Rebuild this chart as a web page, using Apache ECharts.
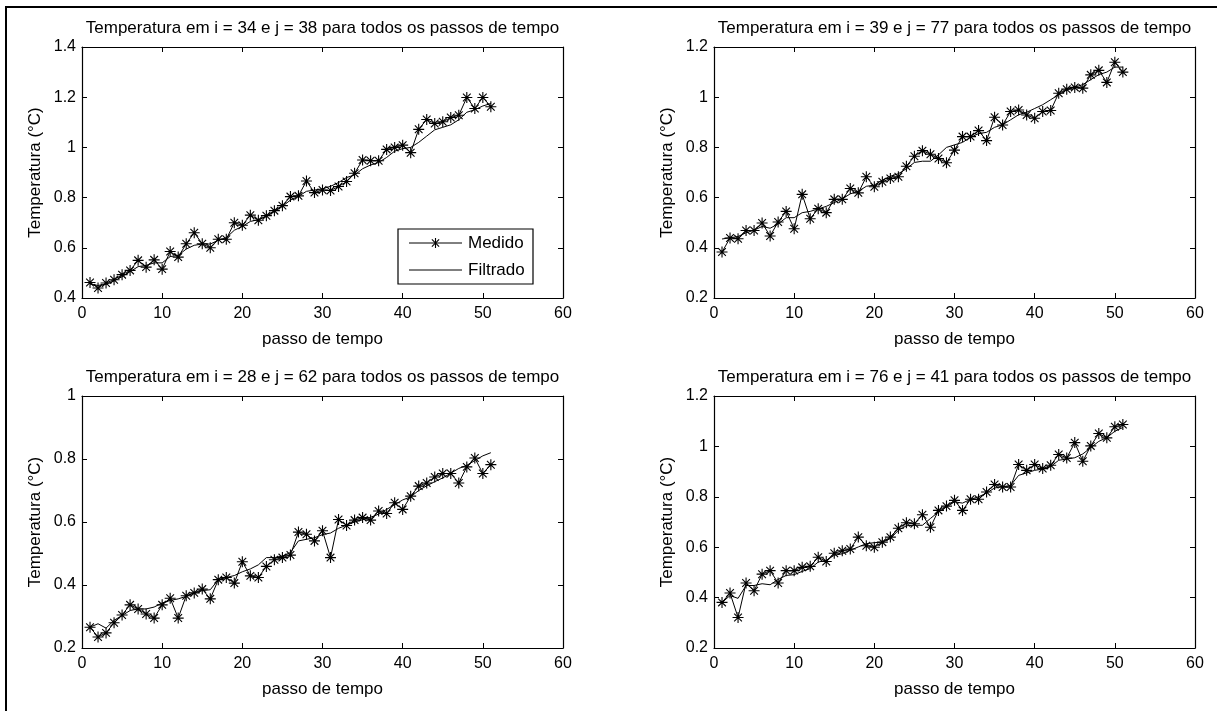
<!DOCTYPE html>
<html>
<head>
<meta charset="utf-8">
<script src="https://cdn.jsdelivr.net/npm/echarts@6/dist/echarts.min.js"></script>
<style>
html,body{margin:0;padding:0;background:#fff;}
#c{width:1217px;height:711px;}
</style>
</head>
<body>
<div id="c"></div>
<script>
const steps = [1,2,3,4,5,6,7,8,9,10,11,12,13,14,15,16,17,18,19,20,21,22,23,24,25,26,27,28,29,30,31,32,33,34,35,36,37,38,39,40,41,42,43,44,45,46,47,48,49,50,51];

const titles = [
  'Temperatura em i = 34 e j = 38 para todos os passos de tempo',
  'Temperatura em i = 39 e j = 77 para todos os passos de tempo',
  'Temperatura em i = 28 e j = 62 para todos os passos de tempo',
  'Temperatura em i = 76 e j = 41 para todos os passos de tempo'
];
const xAxisName = 'passo de tempo';
const yAxisName = 'Temperatura (°C)';
const legendNames = ['Medido', 'Filtrado'];

const medidoA = [0.462,0.44,0.46,0.473,0.493,0.51,0.55,0.523,0.552,0.515,0.585,0.563,0.616,0.66,0.616,0.6,0.634,0.634,0.70,0.69,0.73,0.71,0.728,0.748,0.768,0.804,0.807,0.866,0.82,0.83,0.828,0.844,0.864,0.897,0.95,0.947,0.947,0.992,1.0,1.009,0.979,1.072,1.111,1.095,1.102,1.119,1.128,1.199,1.155,1.199,1.162];
const filtradoA = [0.455,0.45,0.455,0.468,0.485,0.505,0.525,0.53,0.54,0.54,0.565,0.57,0.595,0.61,0.615,0.615,0.63,0.64,0.67,0.685,0.705,0.712,0.725,0.745,0.765,0.79,0.805,0.825,0.83,0.835,0.845,0.86,0.88,0.89,0.915,0.93,0.94,0.96,0.985,0.995,1.0,1.02,1.045,1.07,1.08,1.09,1.11,1.14,1.15,1.165,1.175];

const medidoB = [0.383,0.439,0.436,0.469,0.469,0.499,0.447,0.503,0.545,0.476,0.613,0.516,0.556,0.54,0.593,0.593,0.636,0.619,0.683,0.643,0.663,0.676,0.683,0.725,0.765,0.787,0.773,0.756,0.739,0.789,0.843,0.843,0.867,0.827,0.92,0.889,0.943,0.949,0.929,0.916,0.943,0.947,1.016,1.032,1.039,1.036,1.089,1.107,1.059,1.139,1.1];
const filtradoB = [0.435,0.44,0.445,0.46,0.47,0.485,0.478,0.495,0.52,0.52,0.54,0.545,0.555,0.565,0.58,0.595,0.615,0.625,0.645,0.65,0.67,0.685,0.695,0.715,0.74,0.745,0.745,0.77,0.8,0.81,0.82,0.84,0.855,0.86,0.88,0.89,0.91,0.93,0.94,0.955,0.97,0.99,1.01,1.03,1.04,1.05,1.07,1.09,1.1,1.12,1.12];

const medidoC = [0.266,0.235,0.248,0.28,0.305,0.337,0.324,0.308,0.295,0.337,0.358,0.295,0.366,0.375,0.387,0.356,0.417,0.424,0.406,0.474,0.429,0.424,0.459,0.48,0.487,0.495,0.568,0.561,0.54,0.572,0.487,0.608,0.589,0.606,0.614,0.606,0.635,0.627,0.661,0.64,0.682,0.714,0.724,0.743,0.754,0.754,0.724,0.775,0.803,0.754,0.782];
const filtradoC = [0.266,0.277,0.263,0.288,0.303,0.319,0.324,0.324,0.33,0.343,0.351,0.356,0.364,0.375,0.382,0.385,0.417,0.424,0.43,0.442,0.451,0.464,0.487,0.487,0.492,0.503,0.54,0.545,0.55,0.56,0.565,0.58,0.59,0.6,0.607,0.615,0.625,0.64,0.655,0.67,0.68,0.70,0.715,0.728,0.74,0.755,0.77,0.78,0.795,0.81,0.82];

const medidoD = [0.381,0.418,0.321,0.458,0.427,0.493,0.507,0.458,0.507,0.507,0.52,0.524,0.56,0.543,0.576,0.586,0.593,0.64,0.606,0.6,0.62,0.64,0.675,0.697,0.693,0.729,0.679,0.746,0.763,0.786,0.746,0.79,0.79,0.819,0.849,0.839,0.839,0.928,0.905,0.928,0.912,0.925,0.968,0.954,1.015,0.941,1.002,1.051,1.034,1.078,1.087];
const filtradoD = [0.381,0.408,0.397,0.448,0.448,0.455,0.451,0.472,0.488,0.491,0.504,0.515,0.541,0.548,0.568,0.574,0.588,0.601,0.614,0.618,0.62,0.634,0.667,0.685,0.687,0.687,0.714,0.74,0.76,0.78,0.775,0.79,0.80,0.815,0.835,0.84,0.845,0.885,0.895,0.905,0.91,0.92,0.945,0.95,0.955,0.97,0.995,1.02,1.035,1.06,1.075];

const xTicks = {min: 0, max: 60, interval: 10};
const yRanges = [
  {min: 0.4, max: 1.4, interval: 0.2},
  {min: 0.2, max: 1.2, interval: 0.2},
  {min: 0.2, max: 1.0, interval: 0.2},
  {min: 0.2, max: 1.2, interval: 0.2}
];
const medidoAll = [medidoA, medidoB, medidoC, medidoD];
const filtradoAll = [filtradoA, filtradoB, filtradoC, filtradoD];

// ---- layout ----
const FONT = 'Liberation Sans, Arial, sans-serif';
const TXT = 17, TICK = 16;
const grids = [
  {left: 82, top: 47, width: 481, height: 251},
  {left: 714, top: 47, width: 481, height: 251},
  {left: 82, top: 396, width: 481, height: 252},
  {left: 714, top: 396, width: 481, height: 252}
];
const starPath = 'path://M0,-10L0,10M-10,0L10,0M-7,-7L7,7M-7,7L7,-7';

const xAxes = [], yAxes = [], series = [], graphics = [];
const lineStyleAxis = {color: '#000', width: 1.2};
const pair = (arr) => arr.map((v, i) => [steps[i], v]);

grids.forEach((g, k) => {
  const yr = yRanges[k];
  xAxes.push({
    gridIndex: k, type: 'value', position: 'bottom', min: xTicks.min, max: xTicks.max, interval: xTicks.interval,
    name: xAxisName, nameLocation: 'middle', nameGap: 33,
    nameTextStyle: {color: '#000', fontSize: TXT, fontFamily: FONT},
    axisLine: {onZero: false, lineStyle: lineStyleAxis},
    axisTick: {inside: true, length: 5, lineStyle: {color: '#000'}},
    axisLabel: {color: '#000', fontSize: TICK, fontFamily: FONT, margin: 8},
    splitLine: {show: false}
  });
  xAxes.push({
    gridIndex: k, type: 'value', position: 'top', min: xTicks.min, max: xTicks.max, interval: xTicks.interval,
    axisLine: {onZero: false, lineStyle: lineStyleAxis},
    axisTick: {inside: true, length: 5, lineStyle: {color: '#000'}},
    axisLabel: {show: false}, splitLine: {show: false}
  });
  yAxes.push({
    gridIndex: k, type: 'value', position: 'left', min: yr.min, max: yr.max, interval: yr.interval,
    name: yAxisName, nameLocation: 'middle', nameGap: 38,
    nameTextStyle: {color: '#000', fontSize: TXT, fontFamily: FONT},
    axisLine: {show: true, onZero: false, lineStyle: lineStyleAxis},
    axisTick: {show: true, inside: true, length: 5, lineStyle: {color: '#000'}},
    axisLabel: {color: '#000', fontSize: TICK, fontFamily: FONT, margin: 6},
    splitLine: {show: false}
  });
  yAxes.push({
    gridIndex: k, type: 'value', position: 'right', min: yr.min, max: yr.max, interval: yr.interval,
    axisLine: {show: true, onZero: false, lineStyle: lineStyleAxis},
    axisTick: {show: true, inside: true, length: 5, lineStyle: {color: '#000'}},
    axisLabel: {show: false}, splitLine: {show: false}
  });
  series.push({
    name: legendNames[0], type: 'line', xAxisIndex: 2 * k, yAxisIndex: 2 * k,
    data: pair(medidoAll[k]),
    symbol: starPath, symbolSize: 11, showSymbol: true,
    lineStyle: {color: '#000', width: 1},
    itemStyle: {color: 'rgba(0,0,0,0)', borderColor: '#000', borderWidth: 1.1},
    emphasis: {disabled: true}, animation: false, z: 3
  });
  series.push({
    name: legendNames[1], type: 'line', xAxisIndex: 2 * k, yAxisIndex: 2 * k,
    data: pair(filtradoAll[k]),
    symbol: 'none', showSymbol: false,
    lineStyle: {color: '#000', width: 1},
    itemStyle: {color: '#000'},
    emphasis: {disabled: true}, animation: false, z: 2
  });
  graphics.push({
    type: 'text', x: g.left + g.width / 2, y: g.top - 19,
    style: {text: titles[k], fill: '#000', font: TXT + 'px ' + FONT, textAlign: 'center', textVerticalAlign: 'middle'}
  });
});

// legend box (top-left panel)
const lg = {x: 398, y: 229, w: 135, h: 55, lineX1: 409, lineX2: 462, textX: 468, row1: 243, row2: 270};
const sx = (lg.lineX1 + lg.lineX2) / 2, sr = 5, sd = 3.6;
graphics.push({
  type: 'rect', shape: {x: lg.x, y: lg.y, width: lg.w, height: lg.h},
  style: {fill: '#fff', stroke: '#000', lineWidth: 1.2}, z: 10
});
graphics.push({type: 'line', shape: {x1: lg.lineX1, y1: lg.row1, x2: lg.lineX2, y2: lg.row1}, style: {stroke: '#000', lineWidth: 1}, z: 11});
[[0, -sr, 0, sr], [-sd, -sd, sd, sd], [-sd, sd, sd, -sd]].forEach(s => {
  graphics.push({type: 'line', shape: {x1: sx + s[0], y1: lg.row1 + s[1], x2: sx + s[2], y2: lg.row1 + s[3]}, style: {stroke: '#000', lineWidth: 1.1}, z: 11});
});
graphics.push({type: 'text', x: lg.textX, y: lg.row1, style: {text: legendNames[0], fill: '#000', font: TXT + 'px ' + FONT, textVerticalAlign: 'middle'}, z: 11});
graphics.push({type: 'line', shape: {x1: lg.lineX1, y1: lg.row2, x2: lg.lineX2, y2: lg.row2}, style: {stroke: '#000', lineWidth: 1}, z: 11});
graphics.push({type: 'text', x: lg.textX, y: lg.row2, style: {text: legendNames[1], fill: '#000', font: TXT + 'px ' + FONT, textVerticalAlign: 'middle'}, z: 11});

// outer figure border
graphics.push({
  type: 'rect', shape: {x: 6, y: 7, width: 1300, height: 800},
  style: {fill: 'none', stroke: '#000', lineWidth: 2}, silent: true
});

const option = {
  backgroundColor: '#fff',
  animation: false,
  grid: grids.map(g => Object.assign({containLabel: false}, g)),
  xAxis: xAxes,
  yAxis: yAxes,
  graphic: graphics,
  series: series
};

const chart = echarts.init(document.getElementById('c'), null, {renderer: 'canvas'});
chart.setOption(option);
</script>
</body>
</html>
